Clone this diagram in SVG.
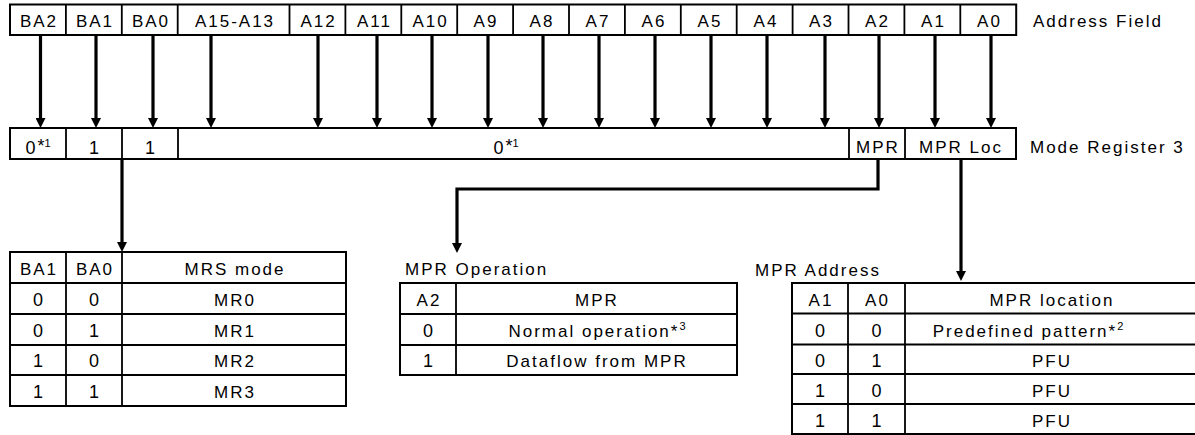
<svg xmlns="http://www.w3.org/2000/svg" width="1195" height="435" viewBox="0 0 1195 435">
<style>
.box{fill:#fff;stroke:#000;stroke-width:2}
.ln{stroke:#000;stroke-width:1.8;fill:none}
.t{font-family:"Liberation Sans",Arial,sans-serif;font-size:17px;letter-spacing:2px;text-anchor:middle;fill:#000}
.tl{font-family:"Liberation Sans",Arial,sans-serif;font-size:17px;letter-spacing:2px;fill:#000}
.d{font-family:"Liberation Sans",Arial,sans-serif;font-size:18px;text-anchor:middle;fill:#000}
.sup{font-size:11px;letter-spacing:0}
.c{stroke:#000;stroke-width:3.2;fill:none}
</style>
<defs>
<marker id="ah" viewBox="0 0 10 10" refX="1" refY="5" markerWidth="10" markerHeight="10" markerUnits="userSpaceOnUse" orient="auto">
<path d="M0,0 L10,5 L0,10 z" fill="#000"/>
</marker>
</defs>

<g id="address-field">
<rect class="box" x="10" y="4.5" width="1006.2" height="30.5"/>
<path class="ln" d="M65.9,4.5V35M121.8,4.5V35M177.7,4.5V35M289.5,4.5V35M345.4,4.5V35M401.3,4.5V35M457.2,4.5V35M513.1,4.5V35M569,4.5V35M624.9,4.5V35M680.8,4.5V35M736.7,4.5V35M792.6,4.5V35M848.5,4.5V35M904.4,4.5V35M960.3,4.5V35"/>
<text class="t" y="27"><tspan x="39">BA2</tspan><tspan x="95">BA1</tspan><tspan x="151">BA0</tspan><tspan x="235">A15-A13</tspan><tspan x="318.5">A12</tspan><tspan x="374.5">A11</tspan><tspan x="430.5">A10</tspan><tspan x="486">A9</tspan><tspan x="542">A8</tspan><tspan x="598">A7</tspan><tspan x="654">A6</tspan><tspan x="710">A5</tspan><tspan x="766">A4</tspan><tspan x="821.5">A3</tspan><tspan x="877.5">A2</tspan><tspan x="933.5">A1</tspan><tspan x="989.5">A0</tspan></text>
<text class="tl" x="1033" y="27" letter-spacing="2.8">Address Field</text>
</g>

<g id="mode-register-3">
<rect class="box" x="10" y="128" width="1006" height="31"/>
<path class="ln" d="M66,128V159M122,128V159M178,128V159M849,128V159M905,128V159"/>
<text class="d" x="38" y="154">0<tspan dx="2" dy="-2">*</tspan><tspan class="sup" dy="-5">1</tspan></text>
<text class="d" x="94" y="154">1</text>
<text class="d" x="150" y="154">1</text>
<text class="d" x="506" y="154">0<tspan dx="2" dy="-2">*</tspan><tspan class="sup" dy="-5">1</tspan></text>
<text class="t" x="878" y="153">MPR</text>
<text class="t" x="961" y="153">MPR Loc</text>
<text class="tl" x="1030" y="153">Mode Register 3</text>
</g>

<g id="connectors">
<path class="c" marker-end="url(#ah)" d="M40.5,35V119"/>
<path class="c" marker-end="url(#ah)" d="M96,35V119"/>
<path class="c" marker-end="url(#ah)" d="M153,35V119"/>
<path class="c" marker-end="url(#ah)" d="M211,35V119"/>
<path class="c" marker-end="url(#ah)" d="M318,35V119"/>
<path class="c" marker-end="url(#ah)" d="M377,35V119"/>
<path class="c" marker-end="url(#ah)" d="M432,35V119"/>
<path class="c" marker-end="url(#ah)" d="M488,35V119"/>
<path class="c" marker-end="url(#ah)" d="M543,35V119"/>
<path class="c" marker-end="url(#ah)" d="M599,35V119"/>
<path class="c" marker-end="url(#ah)" d="M655,35V119"/>
<path class="c" marker-end="url(#ah)" d="M711,35V119"/>
<path class="c" marker-end="url(#ah)" d="M767,35V119"/>
<path class="c" marker-end="url(#ah)" d="M825,35V119"/>
<path class="c" marker-end="url(#ah)" d="M879,35V119"/>
<path class="c" marker-end="url(#ah)" d="M935,35V119"/>
<path class="c" marker-end="url(#ah)" d="M991,35V119"/>
<path class="c" marker-end="url(#ah)" d="M122,159V243"/>
<path class="c" marker-end="url(#ah)" d="M878,159V189H457V244"/>
<path class="c" marker-end="url(#ah)" d="M961,159V272"/>
</g>

<g id="mrs-table">
<rect class="box" x="10" y="252" width="336" height="154"/>
<path class="ln" d="M66,252V406M122,252V406M10,283H346M10,314H346M10,345H346M10,375H346"/>
<text class="t" y="275"><tspan x="39">BA1</tspan><tspan x="95">BA0</tspan><tspan x="235">MRS mode</tspan></text>
<text class="d" y="306"><tspan x="38">0</tspan><tspan x="94">0</tspan></text>
<text class="t" x="235" y="306">MR0</text>
<text class="d" y="337"><tspan x="38">0</tspan><tspan x="94">1</tspan></text>
<text class="t" x="235" y="337">MR1</text>
<text class="d" y="367"><tspan x="38">1</tspan><tspan x="94">0</tspan></text>
<text class="t" x="235" y="367">MR2</text>
<text class="d" y="398"><tspan x="38">1</tspan><tspan x="94">1</tspan></text>
<text class="t" x="235" y="398">MR3</text>
</g>

<g id="mpr-operation-table">
<text class="tl" x="405" y="275">MPR Operation</text>
<rect class="box" x="400" y="283" width="337" height="92"/>
<path class="ln" d="M456,283V375M400,314H737M400,345H737"/>
<text class="t" x="429" y="306">A2</text>
<text class="t" x="597" y="306">MPR</text>
<text class="d" x="428" y="337">0</text>
<text class="t" x="597" y="337">Normal operation<tspan>*</tspan><tspan class="sup" dy="-7">3</tspan></text>
<text class="d" x="428" y="367">1</text>
<text class="t" x="597" y="367">Dataflow from MPR</text>
</g>

<g id="mpr-address-table">
<text class="tl" x="755" y="276">MPR Address</text>
<rect class="box" x="792" y="283" width="406" height="151"/>
<path class="ln" d="M848,283V434M905,283V434M792,313.5H1198M792,344.5H1198M792,374H1198M792,404H1198"/>
<text class="t" y="306"><tspan x="821">A1</tspan><tspan x="877.5">A0</tspan><tspan x="1052">MPR location</tspan></text>
<text class="d" y="337"><tspan x="820">0</tspan><tspan x="876.5">0</tspan></text>
<text class="t" x="1028" y="337">Predefined pattern<tspan>*</tspan><tspan class="sup" dy="-7">2</tspan></text>
<text class="d" y="367"><tspan x="820">0</tspan><tspan x="876.5">1</tspan></text>
<text class="t" x="1052" y="367">PFU</text>
<text class="d" y="397"><tspan x="820">1</tspan><tspan x="876.5">0</tspan></text>
<text class="t" x="1052" y="397">PFU</text>
<text class="d" y="427"><tspan x="820">1</tspan><tspan x="876.5">1</tspan></text>
<text class="t" x="1052" y="427">PFU</text>
</g>
</svg>
